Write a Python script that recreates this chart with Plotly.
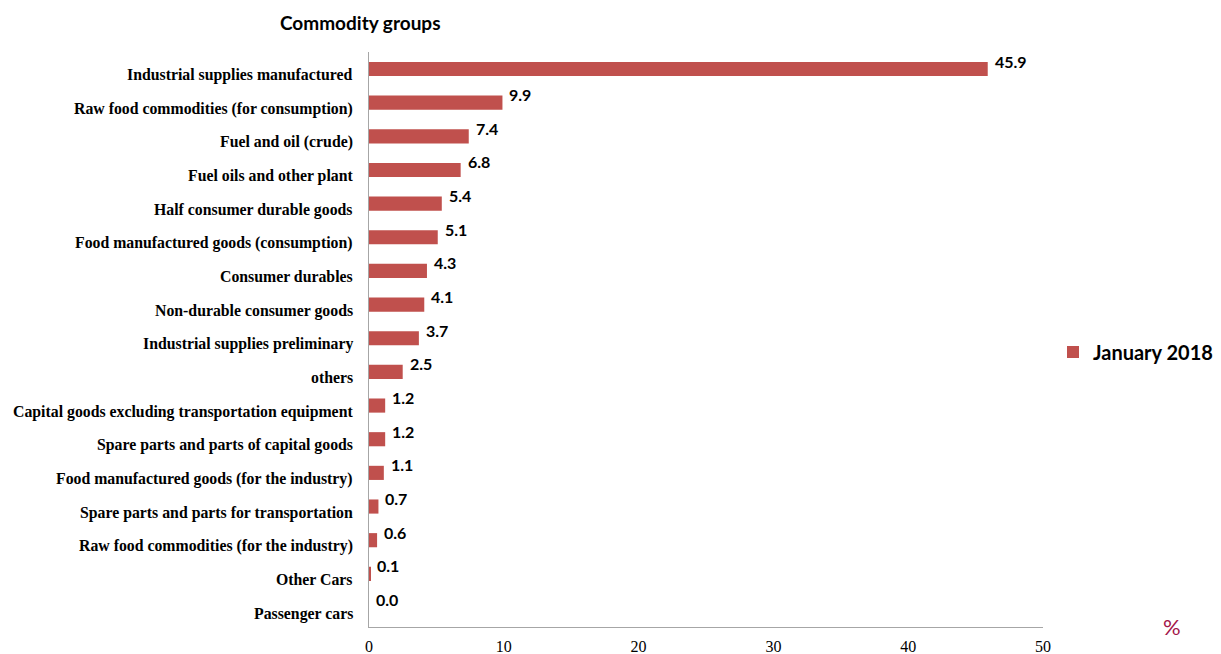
import plotly.graph_objects as go

categories = [
    "Industrial supplies manufactured",
    "Raw food commodities (for consumption)",
    "Fuel and oil (crude)",
    "Fuel oils and other plant",
    "Half consumer durable goods",
    "Food manufactured goods (consumption)",
    "Consumer durables",
    "Non-durable consumer goods",
    "Industrial supplies preliminary",
    "others",
    "Capital goods excluding transportation equipment",
    "Spare parts and parts of capital goods",
    "Food manufactured goods (for the industry)",
    "Spare parts and parts for transportation",
    "Raw food commodities (for the industry)",
    "Other Cars",
    "Passenger cars",
]
values = [45.9, 9.9, 7.4, 6.8, 5.4, 5.1, 4.3, 4.1, 3.7, 2.5, 1.2, 1.2, 1.1, 0.7, 0.6, 0.1, 0.0]
series_name = "January 2018"
x_ticks = [0, 10, 20, 30, 40, 50]

# the page body adds an 8px offset
OFF = 8
W, H = 1221 - OFF, 654 - OFF
L, T = 369 - OFF, 52 - OFF
R = W - (1043 - OFF)
B = H - (627 - OFF)
pw = W - L - R
ph = H - T - B


def px_x(x):
    return (x - OFF - L) / pw


def px_y(y):
    return (H - B - (y - OFF)) / ph


fig = go.Figure()
fig.add_trace(go.Bar(
    x=values, y=categories, orientation="h", name=f"<b>{series_name}</b>",
    marker=dict(color="#C0504D", line=dict(width=0)), width=0.42,
    hoverinfo="x+y",
))

for c, v in zip(categories, values):
    fig.add_annotation(
        x=v, y=c, xref="x", yref="y", text=f"<b>{v:.1f}</b>", showarrow=False,
        xanchor="left", yanchor="middle", xshift=5, yshift=8,
        font=dict(family="Lato, Open Sans, sans-serif", size=16, color="#000000"),
    )
    fig.add_annotation(
        x=0, y=c, xref="paper", yref="y", text=f"<b>{c}</b>", showarrow=False,
        xanchor="right", yanchor="middle", xshift=-14, yshift=-6,
        font=dict(family="Liberation Serif, Times New Roman, serif", size=15.8, color="#000000"),
    )

fig.add_annotation(
    x=px_x(360), y=px_y(23), xref="paper", yref="paper",
    text="<b>Commodity groups</b>", showarrow=False, xanchor="center", yanchor="middle",
    font=dict(family="Lato, Open Sans, sans-serif", size=19, color="#000000"),
)
fig.add_annotation(
    x=px_x(1172), y=px_y(626), xref="paper", yref="paper",
    text="%", showarrow=False, xanchor="center", yanchor="middle",
    font=dict(family="Lato, Open Sans, sans-serif", size=22, color="#A3164A"),
)

fig.update_layout(
    width=W, height=H,
    margin=dict(l=L, r=R, t=T, b=B, autoexpand=False),
    paper_bgcolor="white", plot_bgcolor="white",
    showlegend=True,
    legend=dict(
        x=px_x(1053), y=px_y(352), xanchor="left", yanchor="middle",
        font=dict(family="Lato, Open Sans, sans-serif", size=20, color="#000000"),
        itemwidth=30, bgcolor="rgba(0,0,0,0)",
    ),
    xaxis=dict(
        range=[0, 50], tickvals=x_ticks, ticktext=[str(t) for t in x_ticks],
        showgrid=False, zeroline=False, showline=True, linecolor="#A6A6A6", linewidth=1,
        ticks="", ticklabelstandoff=5,
        tickfont=dict(family="Liberation Serif, Times New Roman, serif", size=16, color="#000000"),
        fixedrange=True,
    ),
    yaxis=dict(
        autorange="reversed", showgrid=False, zeroline=False,
        showline=True, linecolor="#A6A6A6", linewidth=1, ticks="",
        showticklabels=False, fixedrange=True,
    ),
)

fig.write_html("out.html")
